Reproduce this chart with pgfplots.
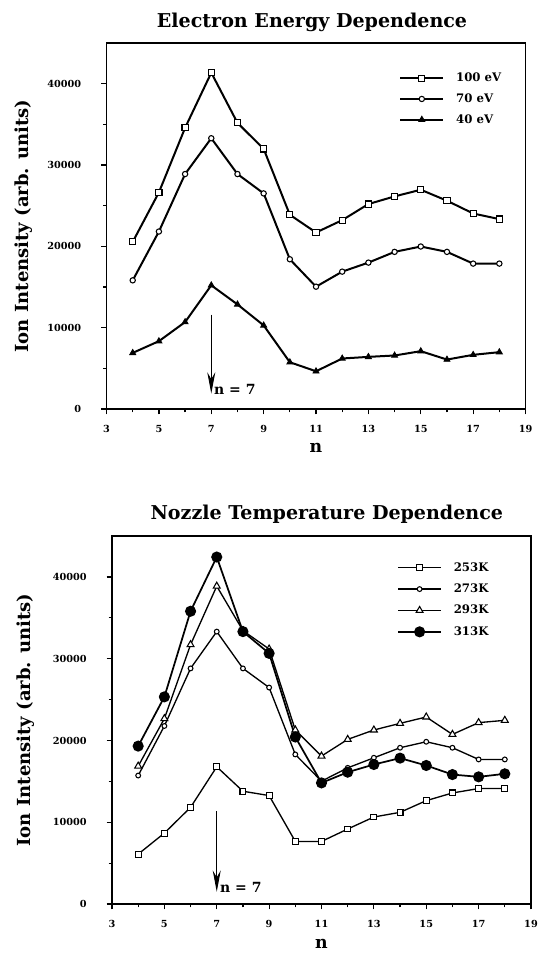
\documentclass[border=0pt]{standalone}
\usepackage{pgfplots}
\pgfplotsset{compat=1.18}
\usepackage{fontspec}
\setmainfont{DejaVu Serif}
\usetikzlibrary{arrows.meta}

\pgfplotsset{
  ionaxis/.style={
    scale only axis,
    anchor=south west,
    xmin=3, xmax=19, ymin=0, ymax=45000,
    xtick={3,5,...,19}, minor x tick num=1,
    ytick={0,10000,20000,30000,40000}, minor y tick num=1,
    tick align=outside, xtick pos=bottom, ytick pos=left,
    major tick length=4pt, minor tick length=2.5pt,
    every tick/.style={line width=0.9pt},
    axis line style={line width=1pt},
    scaled y ticks=false,
    /pgf/number format/assume math mode=true,
    /pgf/number format/1000 sep={},
    tick label style={font=\bfseries\fontsize{7.3}{8}\selectfont},
    yticklabel style={xshift=-11.5pt},
    xticklabel style={yshift=-5pt},
    xlabel={n},
    xlabel style={font=\bfseries\fontsize{13}{14}\selectfont, at={(axis description cs:0.5,0)}, anchor=center, yshift=-29pt},
    ylabel={Ion Intensity (arb. units)},
    ylabel style={font=\bfseries\fontsize{13.5}{15}\selectfont, at={(axis description cs:0,0.5)}, anchor=center, rotate=0, yshift=62pt},
    title style={font=\bfseries\fontsize{14.3}{16}\selectfont, at={(axis description cs:0.5,1)}, anchor=center, yshift=9.5pt},
    legend style={draw=none, fill=none, font=\bfseries\fontsize{8.8}{10}\selectfont,
      anchor=north west, row sep=5.5pt, nodes={inner sep=1pt}},
    legend cell align=left,
    legend image code/.code={\draw[mark repeat=2,mark phase=2,#1] plot coordinates {(0pt,0pt) (16pt,0pt) (32pt,0pt)};\path (40pt,0pt);},
  },
}

\begin{document}
\begin{tikzpicture}
\useasboundingbox (0,0) rectangle (404.25pt,-715.5pt);

% top panel
\begin{axis}[ionaxis, at={(79.9pt,-306.75pt)}, width=314.25pt, height=274.5pt,
  title={Electron Energy Dependence},
  title style={xshift=-3pt},
  legend style={at={(axis description cs:0.689,0.93)}}]
\addplot[black, line width=1.5pt, mark=square*, mark options={solid, line width=0.8pt, fill=white, mark size=2.3pt}] coordinates {
(4,20550)(5,26630)(6,34570)(7,41350)(8,35180)(9,31980)(10,23880)(11,21700)(12,23220)(13,25200)(14,26140)(15,26960)(16,25610)(17,24040)(18,23350)};
\addplot[black, line width=1.5pt, mark=*, mark options={solid, line width=0.8pt, fill=white, mark size=2pt}] coordinates {
(4,15820)(5,21820)(6,28890)(7,33290)(8,28890)(9,26510)(10,18410)(11,15040)(12,16890)(13,18000)(14,19320)(15,19980)(16,19320)(17,17880)(18,17880)};
\addplot[black, line width=1.5pt, mark=triangle*, mark options={solid, line width=0.6pt, fill=black, mark size=2.6pt}] coordinates {
(4,6900)(5,8340)(6,10690)(7,15210)(8,12860)(9,10280)(10,5750)(11,4640)(12,6210)(13,6410)(14,6580)(15,7110)(16,6080)(17,6660)(18,6990)};
\legend{100 eV, 70 eV, 40 eV}
\draw[line width=0.7pt, -{Stealth[length=16pt, width=6pt]}] (axis cs:7,11600) -- (axis cs:7,1900);
\node[anchor=west, font=\bfseries\fontsize{10.5}{12}\selectfont, inner sep=0pt] at (axis cs:7.1,2380) {n = 7};
\end{axis}

% bottom panel
\begin{axis}[ionaxis, at={(84pt,-678pt)}, width=314.25pt, height=276pt,
  title={Nozzle Temperature Dependence},
  title style={xshift=4pt, yshift=0.5pt},
  xlabel style={yshift=-1pt},
  ylabel style={yshift=3pt},
  legend style={at={(axis description cs:0.671,0.94)}, row sep=6pt}]
\addplot[black, line width=1pt, mark=square*, mark options={solid, line width=0.8pt, fill=white, mark size=2.2pt}] coordinates {
(4,6100)(5,8670)(6,11820)(7,16780)(8,13790)(9,13260)(10,7650)(11,7650)(12,9170)(13,10640)(14,11210)(15,12640)(16,13580)(17,14120)(18,14120)};
\addplot[black, line width=1pt, mark=*, mark options={solid, line width=0.8pt, fill=white, mark size=1.8pt}] coordinates {
(4,15710)(5,21770)(6,28810)(7,33310)(8,28810)(9,26470)(10,18290)(11,15020)(12,16650)(13,17880)(14,19110)(15,19840)(16,19110)(17,17680)(18,17680)};
\addplot[black, line width=1pt, mark=triangle*, mark options={solid, line width=0.8pt, fill=white, mark size=3pt}] coordinates {
(4,16860)(5,22670)(6,31710)(7,38870)(8,33430)(9,31180)(10,21280)(11,18090)(12,20130)(13,21280)(14,22090)(15,22870)(16,20740)(17,22180)(18,22460)};
\addplot[black, line width=1.3pt, mark=*, mark options={solid, fill=black, mark size=3.5pt}] coordinates {
(4,19310)(5,25330)(6,35800)(7,42430)(8,33310)(9,30650)(10,20420)(11,14810)(12,16120)(13,17060)(14,17840)(15,16940)(16,15830)(17,15550)(18,15920)};
\legend{253K, 273K, 293K, 313K}
\draw[line width=0.7pt, -{Stealth[length=16pt, width=6pt]}] (axis cs:7,11330) -- (axis cs:7,1500);
\node[anchor=west, font=\bfseries\fontsize{10.5}{12}\selectfont, inner sep=0pt] at (axis cs:7.12,2050) {n = 7};
\end{axis}
\end{tikzpicture}
\end{document}
